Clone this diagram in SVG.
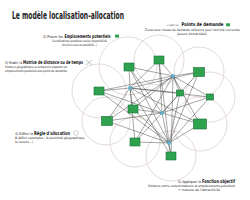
<svg xmlns="http://www.w3.org/2000/svg" width="250" height="200" viewBox="0 0 250 200">
<style>
text{font-family:"Liberation Sans Narrow","DejaVu Sans Condensed","Liberation Sans",sans-serif;fill:#222}
.t{font-size:10px;font-weight:bold}
.h{font-size:3.8px}
.h1{font-size:2.2px}
.hb{font-size:5px;font-weight:bold;fill:#111}
.s{font-size:3.3px}
.zone{fill:none;stroke:#d8c9c9;stroke-width:0.7}
.site{fill:#2fa24f;stroke:#17733a;stroke-width:0.6}
.dem{fill:#5bb6d8;stroke:#3a8fb0;stroke-width:0.3}
.lk{stroke:#3a3a3a;stroke-width:0.45}
</style>
<rect width="250" height="200" fill="#ffffff"/>
<text class="t" x="12" y="18.5" textLength="112" lengthAdjust="spacingAndGlyphs">Le modèle localisation-allocation</text>

<g id="zones">
<circle class="zone" cx="128" cy="66" r="29"/>
<circle class="zone" cx="159" cy="60" r="25"/>
<circle class="zone" cx="199" cy="72" r="25"/>
<circle class="zone" cx="99" cy="91" r="27"/>
<circle class="zone" cx="210" cy="97" r="25"/>
<circle class="zone" cx="106" cy="121" r="24"/>
<circle class="zone" cx="200" cy="124" r="27"/>
<circle class="zone" cx="135" cy="142" r="25"/>
<circle class="zone" cx="171" cy="156" r="25"/>
</g>

<g id="connectors">
<path class="lk" d="M173,76L129,67M173,76L159,60M173,76L199,72M173,76L99,91M173,76L180,93M173,76L210,97M173,76L133,109M173,76L107,121M173,76L200,124M173,76L135,142M173,76L171,156"/>
<path class="lk" d="M130,88L129,67M130,88L159,60M130,88L199,72M130,88L99,91M130,88L180,93M130,88L210,97M130,88L133,109M130,88L107,121M130,88L200,124M130,88L135,142M130,88L171,156"/>
<path class="lk" d="M162,113L129,67M162,113L159,60M162,113L199,72M162,113L99,91M162,113L180,93M162,113L210,97M162,113L133,109M162,113L107,121M162,113L200,124M162,113L135,142M162,113L171,156"/>
<path class="lk" d="M169,143L129,67M169,143L159,60M169,143L199,72M169,143L99,91M169,143L180,93M169,143L210,97M169,143L133,109M169,143L107,121M169,143L200,124M169,143L135,142M169,143L171,156"/>
</g>

<g id="sites">
<rect class="site" x="124" y="63" width="10" height="8"/>
<rect class="site" x="154" y="56" width="10" height="8"/>
<rect class="site" x="193.5" y="67.5" width="11" height="9"/>
<rect class="site" x="94" y="87" width="10" height="8"/>
<rect class="site" x="176.5" y="90" width="7" height="6"/>
<rect class="site" x="206.5" y="94" width="7" height="6"/>
<rect class="site" x="128" y="105" width="10" height="8"/>
<rect class="site" x="101.5" y="116.5" width="11" height="9"/>
<rect class="site" x="193.5" y="119" width="13" height="10"/>
<rect class="site" x="130" y="138" width="10" height="8"/>
<rect class="site" x="166" y="152" width="10" height="8"/>
</g>

<g id="demand">
<circle class="dem" cx="173" cy="76" r="1.7"/>
<circle class="dem" cx="130" cy="88" r="1.7"/>
<circle class="dem" cx="162" cy="113" r="1.7"/>
<circle class="dem" cx="169" cy="143" r="1.7"/>
</g>

<g id="step1">
<text class="h1" x="167" y="26.3" textLength="11.5" lengthAdjust="spacingAndGlyphs">1) Définir les</text>
<text class="hb" x="181.5" y="26.3" textLength="42" lengthAdjust="spacingAndGlyphs">Points de demande</text>
<rect x="226" y="23.3" width="4" height="3" fill="#2fa24f"/>
<text class="s" x="145" y="31" textLength="95" lengthAdjust="spacingAndGlyphs">Zones avec niveau de demande référencé pour l'activité concernée</text>
<text class="s" x="177" y="34.8" textLength="30" lengthAdjust="spacingAndGlyphs">(pouvoir d'achat dédié)</text>
</g>

<g id="step2">
<text class="h" x="43" y="37.6" textLength="20" lengthAdjust="spacingAndGlyphs">2) Placer les</text>
<text class="hb" x="64.5" y="37.6" textLength="46" lengthAdjust="spacingAndGlyphs">Emplacements potentiels</text>
<rect x="115" y="34.6" width="4" height="3" fill="#2fa24f"/>
<text class="s" x="52" y="42" textLength="55" lengthAdjust="spacingAndGlyphs">(Localisations possibles (selon disponibilité</text>
<text class="s" x="62" y="45.8" textLength="35" lengthAdjust="spacingAndGlyphs">foncière ou/et accessibilité...)</text>
</g>

<g id="step3">
<text class="h" x="5" y="63.6" textLength="17" lengthAdjust="spacingAndGlyphs">3) Établir la</text>
<text class="hb" x="23" y="63.6" textLength="60" lengthAdjust="spacingAndGlyphs">Matrice de distance ou de temps</text>
<path d="M86,60L92,65M92,60L86,65" stroke="#888" stroke-width="0.5"/>
<text class="s" x="5" y="68.3" textLength="62" lengthAdjust="spacingAndGlyphs">Distance géographique ou temporelle séparant les</text>
<text class="s" x="5" y="72.1" textLength="62" lengthAdjust="spacingAndGlyphs">emplacements potentiels des points de demande</text>
</g>

<g id="step4">
<text class="h" x="15" y="134.6" textLength="18" lengthAdjust="spacingAndGlyphs">4) Définir la</text>
<text class="hb" x="34" y="134.6" textLength="36" lengthAdjust="spacingAndGlyphs">Règle d'allocation</text>
<circle cx="76" cy="133" r="2.5" fill="none" stroke="#999" stroke-width="0.4"/>
<text class="s" x="15" y="139.3" textLength="70" lengthAdjust="spacingAndGlyphs">À définir (exemples : la proximité géographique,</text>
<text class="s" x="15" y="143.1" textLength="18" lengthAdjust="spacingAndGlyphs">le revenu...)</text>
</g>

<g id="step5">
<text class="h" x="178" y="182.6" textLength="23" lengthAdjust="spacingAndGlyphs">5) Appliquer la</text>
<text class="hb" x="202" y="182.6" textLength="33" lengthAdjust="spacingAndGlyphs">Fonction objectif</text>
<text class="s" x="148" y="187" textLength="87" lengthAdjust="spacingAndGlyphs">Distance entre consommateurs et emplacements potentiels</text>
<text class="s" x="178" y="190.8" textLength="42" lengthAdjust="spacingAndGlyphs">+ mesure de l'attractivité</text>
</g>
</svg>
